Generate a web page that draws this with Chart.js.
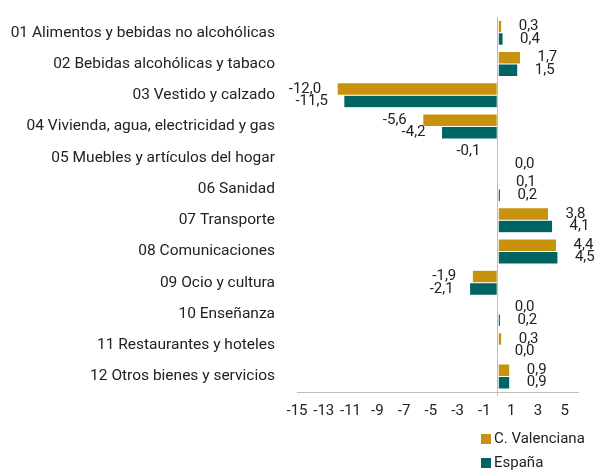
<!DOCTYPE html>
<html lang="es">
    <head>
        <title>Variación de precios por grupos</title>
        <meta charset="utf-8">
        <script src="https://cdn.jsdelivr.net/npm/chart.js@4.4.0/dist/chart.umd.min.js"></script>
        <style>
            body { margin: 0; background: #fff; }
            #wrap { position: relative; width: 598px; height: 470px; }
            #legend { position: absolute; left: 481px; top: 428px; font: 15px Roboto, sans-serif; color: #222; }
            #legend div { height: 24px; line-height: 20px; white-space: nowrap; }
            #legend span { display: inline-block; width: 10px; height: 10px; margin-right: 3px; vertical-align: -1px; }
        </style>
    </head>
    <body>
        <div id="wrap">
            <canvas id="chart" width="598" height="470"></canvas>
            <div id="legend"></div>
        </div>
        <script>
            // data
            var categories = [
                '01 Alimentos y bebidas no alcohólicas',
                '02 Bebidas alcohólicas y tabaco',
                '03 Vestido y calzado',
                '04 Vivienda, agua, electricidad y gas',
                '05 Muebles y artículos del hogar',
                '06 Sanidad',
                '07 Transporte',
                '08 Comunicaciones',
                '09 Ocio y cultura',
                '10 Enseñanza',
                '11 Restaurantes y hoteles',
                '12 Otros bienes y servicios'
            ];
            var valenciana = [0.3, 1.7, -12.0, -5.6, -0.1, 0.1, 3.8, 4.4, -1.9, 0.0, 0.3, 0.9];
            var espana = [0.4, 1.5, -11.5, -4.2, 0.0, 0.2, 4.1, 4.5, -2.1, 0.2, 0.0, 0.9];
            var seriesNames = ['C. Valenciana', 'España'];
            var seriesColors = ['#C8920E', '#006462'];
            var xTicks = [-15, -13, -11, -9, -7, -5, -3, -1, 0, 1, 3, 5];

            var fmt = function(v) { return v.toFixed(1).replace('.', ','); };

            // value labels next to the bar ends
            var barLabels = {
                id: 'barLabels',
                afterDatasetsDraw: function(chart) {
                    var ctx = chart.ctx;
                    ctx.save();
                    ctx.font = '15px Roboto, sans-serif';
                    ctx.fillStyle = '#222';
                    ctx.textBaseline = 'middle';
                    chart.data.datasets.forEach(function(ds, i) {
                        chart.getDatasetMeta(i).data.forEach(function(bar, j) {
                            var v = ds.data[j];
                            if (v < 0) {
                                ctx.textAlign = 'right';
                                ctx.fillText(fmt(v), bar.x - 16, bar.y);
                            } else {
                                ctx.textAlign = 'left';
                                ctx.fillText(fmt(v), bar.x + 17, bar.y);
                            }
                        });
                    });
                    ctx.restore();
                }
            };

            var ctx = document.getElementById('chart').getContext('2d');
            var myChart = new Chart(ctx, {
                type: 'bar',
                data: {
                    labels: categories,
                    datasets: [{
                        label: seriesNames[0],
                        data: valenciana,
                        backgroundColor: seriesColors[0],
                        borderColor: 'rgba(255,255,255,0.5)',
                        borderWidth: 0.5,
                        borderSkipped: false
                    }, {
                        label: seriesNames[1],
                        data: espana,
                        backgroundColor: seriesColors[1],
                        borderColor: 'rgba(255,255,255,0.5)',
                        borderWidth: 0.5,
                        borderSkipped: false
                    }]
                },
                options: {
                    indexAxis: 'y',
                    responsive: false,
                    animation: false,
                    layout: { padding: { top: 17, right: 20 } },
                    datasets: { bar: { categoryPercentage: 0.8, barPercentage: 1.0 } },
                    plugins: {
                        legend: { display: false },
                        tooltip: { enabled: false }
                    },
                    scales: {
                        x: {
                            min: -15,
                            max: 6,
                            afterBuildTicks: function(axis) {
                                axis.ticks = xTicks.map(function(v) { return { value: v }; });
                            },
                            afterFit: function(axis) { axis.height = 78; },
                            border: { display: true, color: '#BFBFBF' },
                            grid: {
                                drawOnChartArea: true,
                                drawTicks: true,
                                tickLength: 4,
                                color: function(c) { return c.tick && c.tick.value === 0 ? '#BFBFBF' : 'rgba(0,0,0,0)'; }
                            },
                            ticks: {
                                padding: 6,
                                autoSkip: false,
                                maxRotation: 0,
                                color: '#222',
                                font: { family: 'Roboto', size: 15 },
                                callback: function(v) { return v === 0 ? '' : String(v); }
                            }
                        },
                        y: {
                            afterFit: function(axis) {
                                axis.width = 297;
                                axis.paddingTop = 0;
                                axis.paddingBottom = 0;
                            },
                            border: { display: false },
                            grid: { display: false },
                            ticks: {
                                padding: 14,
                                autoSkip: false,
                                color: '#222',
                                font: { family: 'Roboto', size: 15.5, lineHeight: 1.0 }
                            }
                        }
                    }
                },
                plugins: [barLabels]
            });

            var legend = document.getElementById('legend');
            seriesNames.forEach(function(name, i) {
                legend.innerHTML += '<div><span style="background:' + seriesColors[i] + '"></span>' + name + '</div>';
            });
        </script>
    </body>
</html>
